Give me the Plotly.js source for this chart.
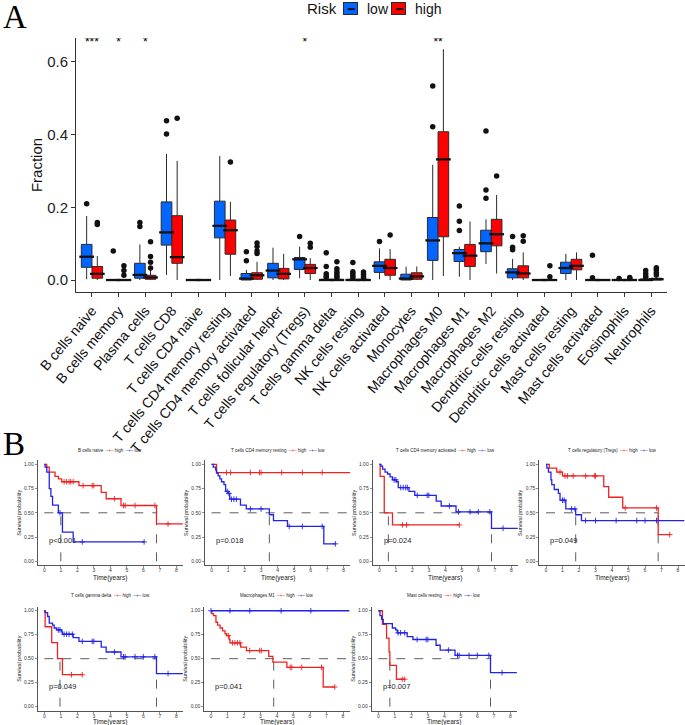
<!DOCTYPE html>
<html><head><meta charset="utf-8">
<script src="https://cdn.plot.ly/plotly-3.0.1.min.js"></script>
<style>html,body{margin:0;padding:0;background:#fff}#chart{width:685px;height:725px}</style>
</head><body><div id="chart"></div>
<script>
// ---------- Panel A data ----------
const categories = ['B cells naive','B cells memory','Plasma cells','T cells CD8','T cells CD4 naive','T cells CD4 memory resting','T cells CD4 memory activated','T cells follicular helper','T cells regulatory (Tregs)','T cells gamma delta','NK cells resting','NK cells activated','Monocytes','Macrophages M0','Macrophages M1','Macrophages M2','Dendritic cells resting','Dendritic cells activated','Mast cells resting','Mast cells activated','Eosinophils','Neutrophils'];
const sigLabels = ['***','*','*','','','','','','*','','','','','**','','','','','','','',''];
const groupNames = ['low','high'];

const lowQ1  = [0.035,0,0.005,0.096,0,0.116,0,0.006,0.029,0,0,0.021,0,0.054,0.051,0.078,0.006,0,0.018,0,0,0];
const lowMed = [0.064,0,0.014,0.131,0,0.149,0.004,0.026,0.057,0,0,0.039,0.004,0.109,0.074,0.101,0.021,0,0.033,0,0,0];
const lowQ3  = [0.098,0,0.046,0.215,0,0.217,0.018,0.046,0.062,0.002,0.002,0.050,0.016,0.172,0.084,0.137,0.031,0,0.049,0,0,0.003];
const lowLo  = [0.002,0,0,0.014,0,0,0,0,0.005,0,0,0.002,0,0,0.009,0.044,0,0,0,0,0,0];
const lowHi  = [0.176,0,0.098,0.347,0,0.341,0.028,0.089,0.092,0.004,0.004,0.087,0.037,0.317,0.092,0.167,0.058,0,0.072,0,0,0.006];
const lowOut = [[0.21],[0.08],[0.158,0.147],[0.438,0.402],[],[],[0.078,0.053],[],[0.12],[0.075,0.037,0.017,0.011,0.007],[0.048,0.023,0.017,0.011,0.006],[0.106],[],[0.534,0.422],[0.204,0.162,0.136],[0.41,0.248,0.225],[0.12,0.09,0.083],[],[],[0.068,0.006],[0.004],[0.026,0.018,0.011,0.007]];

const highQ1  = [0.005,0,0.002,0.046,0,0.071,0.002,0.003,0.018,0,0,0.013,0.002,0.119,0.037,0.094,0.006,0,0.028,0,0,0];
const highMed = [0.017,0,0.007,0.063,0,0.137,0.013,0.017,0.033,0,0,0.033,0.010,0.332,0.067,0.126,0.018,0,0.039,0,0,0.002];
const highQ3  = [0.037,0,0.013,0.177,0,0.165,0.020,0.032,0.043,0.002,0.002,0.057,0.020,0.408,0.098,0.167,0.039,0,0.057,0,0,0.005];
const highLo  = [0,0,0,0,0,0.011,0,0,0,0,0,0,0,0.011,0,0.018,0,0,0,0,0,0];
const highHi  = [0.066,0,0.028,0.328,0,0.215,0.050,0.072,0.060,0.005,0.005,0.085,0.037,0.635,0.161,0.234,0.076,0,0.076,0,0,0.011];
const highOut = [[0.158,0.153],[0.039,0.026,0.013],[0.105,0.065,0.049,0.033],[0.445],[],[0.325],[0.102,0.092,0.08,0.073],[],[0.101,0.09],[0.05,0.031,0.023,0.017,0.011,0.007],[0.022,0.016,0.009,0.004],[0.124],[],[],[],[0.286],[0.122,0.107],[0.039,0.009],[],[],[0.007,0.004],[0.034,0.028,0.02,0.014]];

// ---------- Panel B data ----------
const kmTitles = ['B cells naive','T cells CD4 memory resting','T cells CD4 memory activated','T cells regulatory (Tregs)','T cells gamma delta','Macrophages M1','Mast cells resting'];
const kmPvals = ['p<0.001','p=0.018','p=0.024','p=0.049','p=0.049','p=0.041','p=0.007'];
const kmHighTimes = [
 [0.15,0.3,0.65,0.85,1.05,2.1,3.45,3.75,4.65,6.8],
 [0.3],
 [0.05,0.3,0.8],
 [0.2,0.65,1.0,3.5,3.8,4.65,6.8],
 [0.05,0.45,0.8,1.1],
 [0.05,0.15,0.3,0.4,0.55,0.7,0.85,0.95,1.1,1.15,1.8,2.15,3.5,3.75,4.6,6.8],
 [0.25,0.5,0.65,0.7,1.1]];
const kmHighSurv = [
 [0.97,0.92,0.875,0.85,0.82,0.78,0.71,0.645,0.575,0.385],
 [0.915],
 [0.875,0.5,0.375],
 [0.96,0.92,0.88,0.77,0.66,0.55,0.275],
 [0.833,0.667,0.5,0.333],
 [0.97,0.95,0.88,0.85,0.82,0.79,0.76,0.74,0.70,0.665,0.62,0.585,0.525,0.465,0.41,0.205],
 [0.857,0.714,0.571,0.43,0.286]];
const kmHighCensor = [
 [1.2,1.35,1.5,1.6,1.75,2.35,2.9,3.0,4.25,4.8,4.9,5.5,6.7,7.5],
 [0.9,1.15,2.35,2.9,3.0,4.25,5.5,6.7],
 [1.4,1.65,4.85],
 [0.85,1.15,1.3,1.65,2.4,2.95,3.0,4.8,6.7,7.5],
 [1.65,2.3],
 [1.05,1.3,1.45,1.6,1.75,2.35,2.95,3.05,4.8,4.9,5.5,6.7,7.5],
 [1.45,1.6]];
const kmHighEnd = [8.4,8.4,4.85,7.5,2.3,7.5,1.6];
const kmLowTimes = [
 [0.05,0.15,0.3,0.4,0.5,0.85,1.1,1.75],
 [0.1,0.25,0.3,0.4,0.5,0.6,0.75,0.85,1.0,1.1,1.75,2.1,3.5,3.75,4.6,6.8],
 [0.1,0.2,0.35,0.5,0.65,0.8,1.05,1.15,1.8,2.15,3.45,3.75,4.65,6.8],
 [0.05,0.15,0.3,0.35,0.5,0.75,0.85,1.2,1.8,2.15],
 [0.05,0.2,0.3,0.5,0.6,0.75,1.05,1.1,1.75,2.1,3.45,3.75,4.65,6.8],
 [],
 [0.1,0.2,0.3,0.85,1.05,1.15,1.75,2.1,3.5,3.75,4.65,6.8]];
const kmLowSurv = [
 [0.97,0.92,0.75,0.67,0.58,0.5,0.3,0.2],
 [0.97,0.94,0.91,0.88,0.85,0.82,0.79,0.72,0.70,0.64,0.58,0.54,0.48,0.42,0.36,0.18],
 [0.98,0.95,0.92,0.9,0.87,0.84,0.82,0.76,0.72,0.68,0.62,0.57,0.51,0.34],
 [0.96,0.92,0.84,0.79,0.74,0.70,0.63,0.54,0.48,0.42],
 [0.98,0.94,0.87,0.85,0.82,0.80,0.78,0.755,0.72,0.68,0.62,0.57,0.52,0.345],
 [],
 [0.95,0.91,0.865,0.82,0.80,0.77,0.73,0.70,0.64,0.59,0.535,0.355]];
const kmLowCensor = [
 [0.95,2.3,6.05],
 [0.95,1.05,1.2,1.35,1.5,2.35,3.0,4.7,5.5,6.7,7.5],
 [0.9,1.0,1.3,1.45,1.6,1.7,2.3,2.9,3.0,4.25,4.8,5.5,6.0,6.7,7.5],
 [1.0,1.1,1.55,1.75,2.4,3.0,4.25,5.5,6.0,6.7],
 [0.85,0.95,1.2,1.35,1.5,1.7,2.3,2.9,3.0,4.25,4.8,4.9,5.5,6.0,6.7,7.5],
 [0.0,1.15,2.35,4.25,6.05],
 [1.2,1.35,1.6,2.35,2.9,3.0,4.25,4.8,4.9,5.5,6.0,6.7,7.5]];
const kmLowEnd = [6.05,7.5,8.4,8.4,8.4,8.4,8.4];
const kmMedians = [[1.0,6.8],[3.5],[0.55,6.8],[1.8,6.8],[0.95,6.8],[3.8],[0.7,6.8]];
const kmMedianLineEnd = [6.8,8.4,6.8,6.8,6.8,8.4,6.8];

// ---------- styles / layout ----------
const W = 685, H = 725;
const FONT = 'Liberation Sans, Arial, sans-serif';
const LOWC = '#0066FF', HIGHC = '#FF0000';
const KMRED = '#EE2222', KMBLUE = '#2323E6';
const fx = p => p / W, fy = p => 1 - p / H;

const traces = [];
const pos = categories.map((c, i) => i + 1);
const dx = 0.2, bw = 0.4;

function addBoxGroup(name, color, shift, q1, med, q3, lo, hi, outs) {
  const xp = pos.map(v => v + shift);
  traces.push({type:'box', name:name, orientation:'v', x:xp, q1:q1, median:med, q3:q3,
    lowerfence:lo, upperfence:hi, width:bw, fillcolor:color,
    line:{color:'#2a2a2a', width:1}, whiskerwidth:0, boxpoints:false,
    xaxis:'x', yaxis:'y', hoverinfo:'skip', showlegend:false});
  traces.push({type:'scatter', mode:'markers', x:xp, y:med, xaxis:'x', yaxis:'y',
    marker:{symbol:'line-ew', size:10.5, line:{width:2.3, color:'#111'}}, showlegend:false, hoverinfo:'skip'});
  const ox = [], oy = [];
  outs.forEach((arr, i) => arr.forEach(v => { ox.push(xp[i]); oy.push(v); }));
  traces.push({type:'scatter', mode:'markers', x:ox, y:oy, xaxis:'x', yaxis:'y',
    marker:{color:'#111', size:5.5}, showlegend:false, hoverinfo:'skip'});
}
addBoxGroup(groupNames[0], LOWC, -dx, lowQ1, lowMed, lowQ3, lowLo, lowHi, lowOut);
addBoxGroup(groupNames[1], HIGHC, dx, highQ1, highMed, highQ3, highLo, highHi, highOut);

traces.push({type:'scatter', mode:'text', x:pos, y:pos.map(() => 0.652), text:sigLabels,
  textfont:{size:12, color:'#000', family:FONT}, xaxis:'x', yaxis:'y', showlegend:false, hoverinfo:'skip'});

const serif = 'Liberation Serif, Times New Roman, serif';
const layout = {
  width:W, height:H, margin:{l:0, r:0, t:0, b:0}, paper_bgcolor:'#fff', plot_bgcolor:'#fff',
  font:{family:FONT, color:'#111'}, boxmode:'overlay', showlegend:false,
  xaxis:{domain:[fx(76), fx(667)], range:[0.4, 22.6], tickvals:pos, ticktext:categories, tickangle:-50,
    ticks:'outside', ticklen:4, tickcolor:'#333', showline:true, linecolor:'#333', linewidth:1,
    showgrid:false, zeroline:false, tickfont:{size:14, color:'#111'}, anchor:'y'},
  yaxis:{domain:[fy(292), fy(38)], range:[-0.033, 0.666], tickvals:[0,0.2,0.4,0.6], tickformat:'.1f',
    ticks:'outside', ticklen:4, tickcolor:'#333', showline:true, linecolor:'#333', linewidth:1,
    showgrid:false, zeroline:false, tickfont:{size:15, color:'#222'}, anchor:'x',
    title:{text:'Fraction', font:{size:15}, standoff:0}},
  annotations:[
    {text:'A', xref:'paper', yref:'paper', x:fx(1), y:fy(-3), xanchor:'left', yanchor:'top', showarrow:false,
     font:{family:serif, size:33, color:'#000'}},
    {text:'B', xref:'paper', yref:'paper', x:fx(1), y:fy(424), xanchor:'left', yanchor:'top', showarrow:false,
     font:{family:serif, size:33, color:'#000'}},
    // legend (title, keys, labels)
    {text:'Risk', xref:'paper', yref:'paper', x:fx(305), y:fy(9), xanchor:'left', yanchor:'middle', showarrow:false,
     font:{size:15, color:'#111'}},
    {text:'━', xref:'paper', yref:'paper', x:fx(350), y:fy(9), xanchor:'center', yanchor:'middle', showarrow:false,
     width:13, height:11, bgcolor:LOWC, bordercolor:'#2a2a2a', borderwidth:1, borderpad:0, font:{size:11, color:'#000'}},
    {text:groupNames[0], xref:'paper', yref:'paper', x:fx(365), y:fy(9), xanchor:'left', yanchor:'middle', showarrow:false,
     font:{size:14, color:'#111'}},
    {text:'━', xref:'paper', yref:'paper', x:fx(398), y:fy(9), xanchor:'center', yanchor:'middle', showarrow:false,
     width:13, height:11, bgcolor:HIGHC, bordercolor:'#2a2a2a', borderwidth:1, borderpad:0, font:{size:11, color:'#000'}},
    {text:groupNames[1], xref:'paper', yref:'paper', x:fx(413), y:fy(9), xanchor:'left', yanchor:'middle', showarrow:false,
     font:{size:14, color:'#111'}}
  ]
};

const kmDomX = [[37.7,182.9],[205,350.2],[372.7,517.9],[539.4,684.6],[37.7,182.9],[204.4,349.6],[371.7,516.9]];
const kmRow = [0,0,0,0,1,1,1];
const rowY = [[460.4,565.2],[606.9,710.5]];
const titleY = [450, 595];
const xTitleY = [577.5, 722];

function survAt(times, surv, t) {
  let s = 1;
  for (let i = 0; i < times.length; i++) if (times[i] <= t) s = surv[i];
  return s;
}

kmTitles.forEach((title, k) => {
  const xa = 'x' + (k + 2), ya = 'y' + (k + 2);
  const dX = kmDomX[k], dY = rowY[kmRow[k]];
  layout['xaxis' + (k + 2)] = {domain:[fx(dX[0]), fx(dX[1])], range:[-0.4, 8.4], anchor:ya,
    tickvals:[0,1,2,3,4,5,6,7,8], ticks:'outside', ticklen:2, tickwidth:0.6, tickcolor:'#444',
    ticklabelstandoff:-2,
    showline:true, linecolor:'#555', linewidth:1, showgrid:false, zeroline:false,
    tickfont:{size:5, color:'#333'}};
  layout['yaxis' + (k + 2)] = {domain:[fy(dY[1]), fy(dY[0])], range:[-0.04, 1.04], anchor:xa,
    tickvals:[0,0.25,0.5,0.75,1], tickformat:'.2f', ticks:'outside', ticklen:2, tickwidth:0.6, tickcolor:'#444',
    showline:true, linecolor:'#555', linewidth:1, showgrid:false, zeroline:false,
    tickfont:{size:5, color:'#333'}, title:{text:'Survival probability', font:{size:5.5, color:'#222'}, standoff:2}};

  // median reference lines
  const mx = [0, kmMedianLineEnd[k]], my = [0.5, 0.5];
  kmMedians[k].forEach(m => { mx.push(null, m, m); my.push(null, 0, 0.5); });
  traces.push({type:'scatter', mode:'lines', x:mx, y:my, xaxis:xa, yaxis:ya,
    line:{color:'#333', width:0.8, dash:'dash'}, showlegend:false, hoverinfo:'skip'});

  const groups = [
    {t:kmHighTimes[k], s:kmHighSurv[k], c:kmHighCensor[k], e:kmHighEnd[k], col:KMRED},
    {t:kmLowTimes[k], s:kmLowSurv[k], c:kmLowCensor[k], e:kmLowEnd[k], col:KMBLUE}
  ];
  groups.forEach(g => {
    const last = g.s.length ? g.s[g.s.length - 1] : 1;
    traces.push({type:'scatter', mode:'lines', x:[0, ...g.t, g.e], y:[1, ...g.s, last], xaxis:xa, yaxis:ya,
      line:{color:g.col, width:1.3, shape:'hv'}, showlegend:false, hoverinfo:'skip'});
    traces.push({type:'scatter', mode:'markers', x:g.c, y:g.c.map(t => survAt(g.t, g.s, t)), xaxis:xa, yaxis:ya,
      marker:{symbol:'cross-thin', size:4, line:{width:0.9, color:g.col}}, showlegend:false, hoverinfo:'skip'});
  });

  layout.annotations.push({text:title + '  <span style="color:' + KMRED + '">–+–</span> high  <span style="color:' + KMBLUE + '">–+–</span> low',
    xref:'paper', yref:'paper', x:fx((dX[0] + dX[1]) / 2), y:fy(titleY[kmRow[k]]), xanchor:'center', yanchor:'middle',
    showarrow:false, font:{size:4.5, color:'#222'}});
  layout.annotations.push({text:'Time(years)', xref:'paper', yref:'paper', x:fx((dX[0] + dX[1]) / 2),
    y:fy(xTitleY[kmRow[k]]), xanchor:'center', yanchor:'middle', showarrow:false, font:{size:6.5, color:'#222'}});
  layout.annotations.push({text:kmPvals[k], xref:xa, yref:ya, x:0.15, y:0.21, xanchor:'left', yanchor:'middle',
    showarrow:false, font:{size:7.5, color:'#222'}});
});

Plotly.newPlot('chart', traces, layout, {displayModeBar:false, staticPlot:true});
</script></body></html>
